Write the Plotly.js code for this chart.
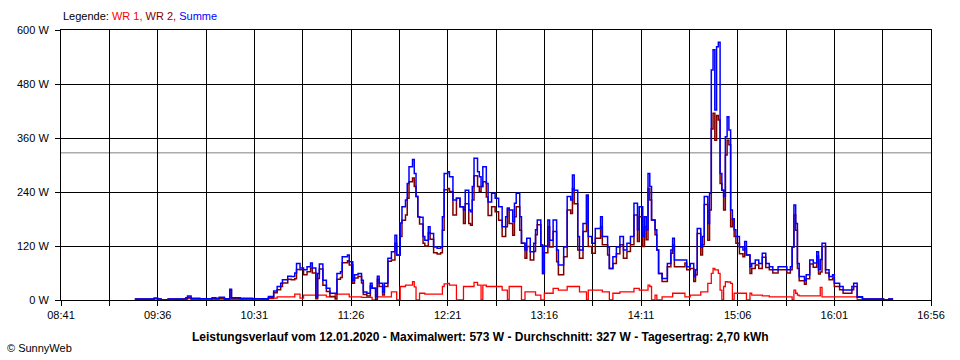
<!DOCTYPE html>
<html><head><meta charset="utf-8">
<script src="https://cdn.plot.ly/plotly-3.0.1.min.js"></script>
<style>html,body{margin:0;padding:0;background:#fff}#chart{width:960px;height:360px}</style>
</head><body><div id="chart"></div>
<script>
// time in minutes since midnight (12.01.2020)
const minutes = [563,572,574,576,578,582,592,593,595,600,607,609,611,614,617,618,623,630,635,639,
642,644,646,647,650,652,654,655,657,659,661,663,664,666,667,668,670,672,674,677,678,680,681,684,685,687,688,690,692,693,695,697,698,700,701,702,704,705,707,709,711,712,714,715,717,718,719,721,722,723,724,725,727,728,730,731,733,735,737,738,739,741,742,744,746,748,750,751,753,754,755,756,758,759,760,761,763,764,766,768,770,772,774,775,776,778,779,780,782,783,785,786,788,790,791,792,794,795,796,798,799,801,803,804,807,809,811,812,813,815,816,818,820,821,823,825,828,829,832,833,835,837,839,841,843,845,847,849,850,852,853,854,855,856,857,859,860,861,863,866,868,869,870,873,876,877,879,881,882,883,885,886,887,889,890,891,892,893,894,895,896,897,898,899,900,901,902,903,904,905,907,909,910,911,913,914,916,918,920,922,924,926,929,934,936,937,938,939,940,941,944,945,947,949,951,952,953,954,956,958,960,961,964,966,969,971,972,974,977,988,989,992,994];

const summe = [2,2,4,2,0,2,5,9,4,3,5,4,6,3,24,5,4,3,3,8,
20,30,37,45,53,52,60,81,71,67,74,82,71,8,59,80,44,26,15,15,59,63,96,100,85,44,56,59,44,18,15,37,26,8,53,37,18,37,93,107,144,100,171,207,222,259,296,312,281,230,185,184,141,133,163,148,118,115,118,185,281,285,274,222,226,207,200,244,200,196,252,315,285,274,252,296,259,218,237,226,207,163,185,204,200,174,215,237,185,126,111,137,107,126,156,178,122,59,120,178,133,178,111,78,118,230,222,278,244,141,111,170,233,141,126,159,185,141,118,70,96,118,141,111,126,141,215,156,207,141,185,156,281,252,178,156,111,59,48,81,111,137,89,89,89,74,81,52,67,159,118,141,230,170,237,511,556,422,563,573,281,244,230,363,407,378,200,180,156,141,118,111,130,100,74,81,89,81,104,81,74,67,74,67,74,118,211,170,81,52,44,56,89,82,107,67,90,126,67,52,56,37,30,22,22,30,37,7,2,2,0,2,0];

const wr1 = [0,0,0,0,0,0,1,3,1,0,1,1,2,1,1,1,1,0,1,3,
4,7,7,7,7,7,13,13,4,11,11,11,11,5,11,11,11,7,7,13,13,13,13,13,7,7,7,7,6,6,6,6,0,7,7,7,7,7,7,18,18,0,30,30,33,33,33,41,29,0,0,15,15,13,13,13,13,13,13,30,36,37,33,33,0,0,30,30,30,30,30,39,33,33,0,33,30,30,30,30,30,22,22,0,30,30,30,30,30,0,18,18,18,18,11,11,0,0,15,15,15,26,26,22,22,30,30,30,30,30,18,18,0,22,22,22,22,18,18,0,15,15,18,18,18,18,26,26,22,22,22,22,33,30,0,11,0,0,7,7,7,15,15,15,7,7,11,11,11,11,18,18,18,37,37,59,70,67,67,59,22,0,30,41,40,40,37,0,15,15,15,15,15,0,15,11,11,11,9,9,7,7,7,7,7,0,22,15,11,9,9,9,9,9,9,9,28,7,7,7,7,7,7,7,7,7,7,1,0,0,0,0,0];

const wr2 = [2,2,4,2,0,2,4,6,3,3,4,3,4,2,23,4,3,3,2,5,
16,23,30,38,46,45,47,68,67,56,63,71,60,3,48,69,33,19,8,2,46,50,83,87,78,37,49,52,38,12,9,31,26,1,46,30,11,30,86,89,126,100,141,177,189,226,263,271,252,230,185,169,126,120,150,135,105,102,105,155,245,248,241,189,226,207,170,214,170,166,222,276,252,241,252,263,229,188,207,196,177,141,163,204,170,144,185,207,155,126,93,119,89,108,145,167,122,59,105,163,118,152,85,56,96,200,192,248,214,111,93,152,233,119,104,137,163,123,100,70,81,103,123,93,108,123,189,130,185,119,163,134,248,222,178,145,111,59,41,74,104,122,74,74,82,67,70,41,56,148,100,123,212,133,200,380,415,355,410,400,259,244,200,322,355,345,163,180,141,126,103,96,115,100,59,70,78,70,95,72,67,60,67,60,67,118,189,155,70,43,35,47,80,73,98,58,62,119,60,45,49,30,23,15,15,23,30,6,2,2,0,2,0];

const averageW = 327;
const yTickValues = [0,120,240,360,480,600];
const yTickLabels = ["0 W","120 W","240 W","360 W","480 W","600 W"];
const xTickMinutes = [521,548.5,576,603.5,631,658.5,686,713.5,741,768.5,796,823.5,851,878.5,906,933.5,961,988.5,1016];
const xTickLabels = ["08:41","","09:36","","10:31","","11:26","","12:21","","13:16","","14:11","","15:06","","16:01","","16:56"];
const titleText = "Leistungsverlauf vom 12.01.2020 - Maximalwert: 573 W - Durchschnitt: 327 W - Tagesertrag: 2,70 kWh";

const FONT = "Liberation Sans, Arial, sans-serif";

const traces = [
  {x: minutes, y: wr1, name: "WR 1", type: "scatter", mode: "lines", line: {color: "#ff0000", width: 1.3, shape: "hv"}},
  {x: minutes, y: wr2, name: "WR 2", type: "scatter", mode: "lines", line: {color: "#800000", width: 1.5, shape: "hv"}},
  {x: minutes, y: summe, name: "Summe", type: "scatter", mode: "lines", line: {color: "#0000ff", width: 1.5, shape: "hv"}}
];

const layout = {
  width: 960, height: 360,
  margin: {l: 61, r: 29, t: 30, b: 60, pad: 0},
  paper_bgcolor: "#ffffff", plot_bgcolor: "#ffffff",
  showlegend: false,
  font: {family: FONT, size: 11, color: "#000"},
  xaxis: {
    range: [521, 1016], tickmode: "array", tickvals: xTickMinutes, ticktext: xTickLabels,
    showgrid: true, gridcolor: "#000", gridwidth: 1,
    showline: true, linecolor: "#000", linewidth: 1, mirror: true,
    ticks: "outside", ticklen: 5, tickcolor: "#000", tickwidth: 1,
    zeroline: false, fixedrange: true,
    tickfont: {family: FONT, size: 11, color: "#000"}
  },
  yaxis: {
    range: [0, 600], tickmode: "array", tickvals: yTickValues, ticktext: yTickLabels,
    showgrid: true, gridcolor: "#000", gridwidth: 1,
    showline: true, linecolor: "#000", linewidth: 1, mirror: true,
    ticks: "outside", ticklen: 5, tickcolor: "#000", tickwidth: 1,
    ticklabelstandoff: 4,
    zeroline: false, fixedrange: true,
    tickfont: {family: FONT, size: 11, color: "#000"}
  },
  shapes: [
    {type: "line", xref: "paper", yref: "y", x0: 0, x1: 1, y0: averageW, y1: averageW,
     line: {color: "#808080", width: 1}, layer: "below"}
  ],
  annotations: [
    {xref: "paper", yref: "paper", x: 0, y: 1.052, xanchor: "left", yanchor: "middle", showarrow: false,
     text: 'Legende: <span style="color:#ff0000">WR 1,</span> <span style="color:#800000">WR 2,</span> <span style="color:#0000ff">Summe</span>',
     font: {family: FONT, size: 11, color: "#000"}},
    {xref: "paper", yref: "paper", x: 0.482, y: -0.137, xanchor: "center", yanchor: "middle", showarrow: false,
     text: "<b>" + titleText + "</b>", font: {family: FONT, size: 12, color: "#000"}},
    {xref: "paper", yref: "paper", x: -0.0644, y: -0.178, xanchor: "left", yanchor: "middle", showarrow: false,
     text: "© SunnyWeb", font: {family: FONT, size: 11, color: "#000"}}
  ]
};

Plotly.newPlot("chart", traces, layout, {staticPlot: true, displayModeBar: false});
</script>
</body></html>
